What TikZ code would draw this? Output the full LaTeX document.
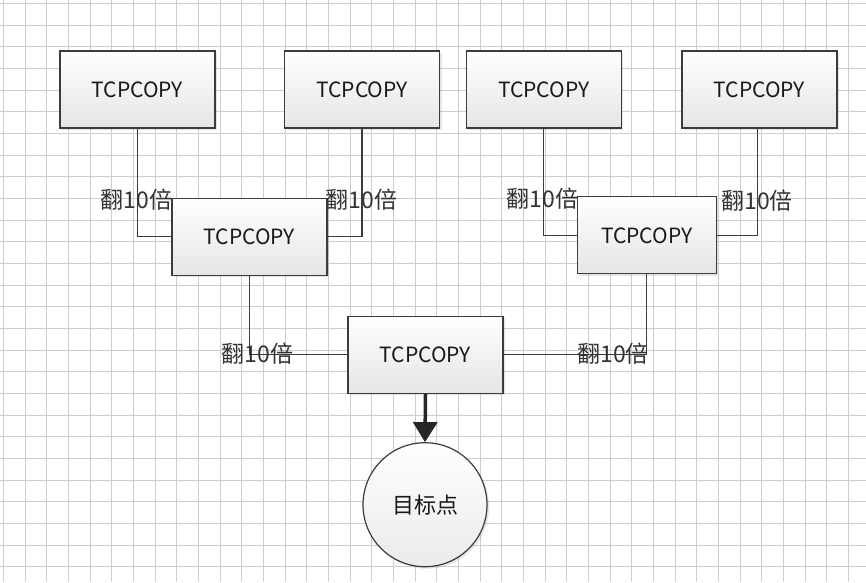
\documentclass[tikz,border=0pt]{standalone}
\usepackage{fontspec}
\newfontfamily\cjk{Noto Sans CJK SC}
\usetikzlibrary{arrows.meta,shadows}
\definecolor{gridc}{RGB}{205,205,205}
\definecolor{linec}{RGB}{60,60,60}
\tikzset{
  box/.style={draw=linec, line width=1.2pt, top color=white, bottom color=black!10,
    minimum width=155pt, minimum height=77pt, inner sep=0pt,
    font=\cjk\fontsize{21}{24}\selectfont, text=black!90,
    drop shadow={shadow xshift=2pt, shadow yshift=-2pt, opacity=0.2}},
  target/.style={circle, draw=linec, line width=1.2pt, top color=white, bottom color=black!8,
    minimum size=124pt, inner sep=0pt, font=\cjk\fontsize{22}{24}\selectfont, text=black!90,
    drop shadow={shadow xshift=2pt, shadow yshift=-2pt, opacity=0.2}},
  conn/.style={draw=linec, line width=1.2pt},
  lbl/.style={font=\cjk\fontsize{23}{26}\selectfont, text=black!80, inner sep=0pt},
  bigarrow/.style={draw=black!85, line width=3.5pt, -{Triangle[length=20pt,width=24pt]}}
}
\begin{document}
\begin{tikzpicture}[x=1pt,y=-1pt]
\useasboundingbox (0,0) rectangle (866,582);
\fill[white] (0,0) rectangle (866,582);
\foreach \k in {0,...,39} {
  \draw[gridc, line width=0.9pt] ({3.3+21.67*\k},0) -- ({3.3+21.67*\k},582);
}
\foreach \k in {0,...,26} {
  \draw[gridc, line width=0.9pt] (0,{3.3+21.67*\k}) -- (866,{3.3+21.67*\k});
}
% nodes
\node[box] (b1) at (137.5,89.5) {TCPCOPY};
\node[box] (b2) at (362,89.5) {TCPCOPY};
\node[box] (b3) at (543.7,89.5) {TCPCOPY};
\node[box] (b4) at (759.5,89.5) {TCPCOPY};
\node[box] (b5) at (249.5,236.7) {TCPCOPY};
\node[box, minimum width=139pt] (b6) at (646.7,235.3) {TCPCOPY};
\node[box] (b7) at (425.5,354.7) {TCPCOPY};
\node[target] (t) at (425,504.7) {目标点};
% connectors
\draw[conn] (b1.south) |- (b5.west);
\draw[conn] (b2.south) |- (b5.east);
\draw[conn] (b3.south) |- (b6.west);
\draw[conn] ([xshift=-2pt]b4.south) |- (b6.east);
\draw[conn] (b5.south) |- (b7.west);
\draw[conn] (b6.south) |- (b7.east);
\draw[bigarrow] (b7.south) -- (t.north);
% labels
\node[lbl] (l1) at (136.7,200) {翻10倍};
\node[lbl] (l2) at (361.7,200) {翻10倍};
\node[lbl] (l3) at (542.5,199) {翻10倍};
\node[lbl] (l4) at (757,201) {翻10倍};
\node[lbl] (l5) at (257.5,353.5) {翻10倍};
\node[lbl] (l6) at (613,353.5) {翻10倍};
\end{tikzpicture}
\end{document}
